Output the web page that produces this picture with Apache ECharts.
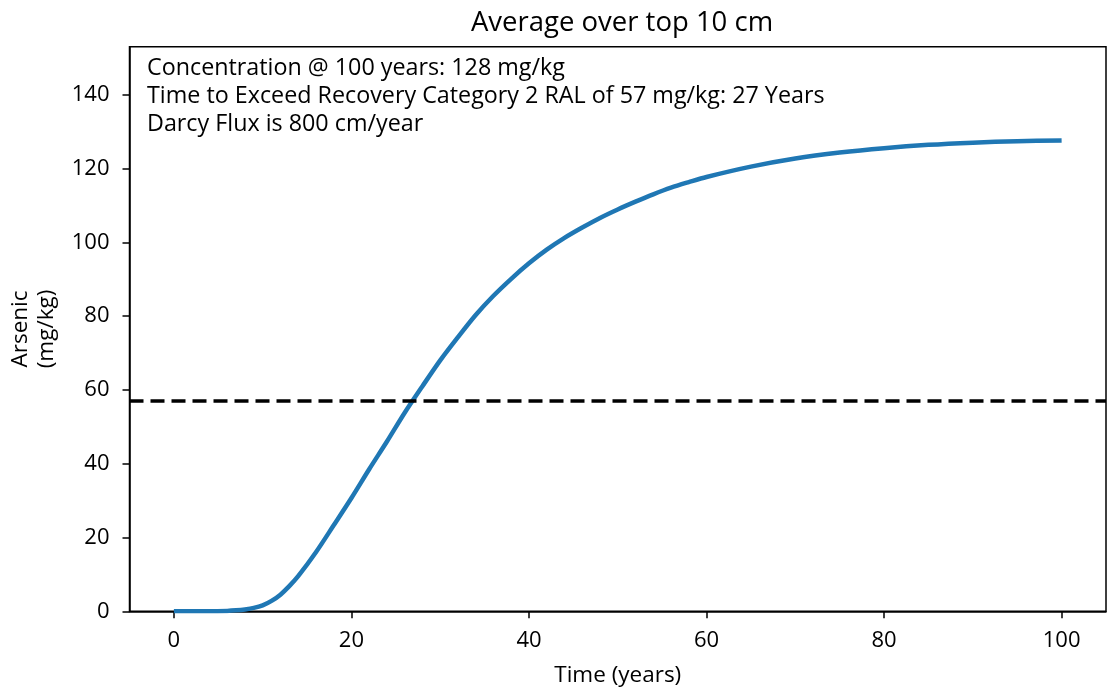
<!DOCTYPE html>
<html>
<head>
<meta charset="utf-8">
<script src="https://cdn.jsdelivr.net/npm/echarts@6/dist/echarts.min.js"></script>
<style>
  html, body { margin: 0; padding: 0; background: #fff; }
  #chart { width: 1110px; height: 689px; }
</style>
</head>
<body>
<div id="chart"></div>
<script>
// time axis (years) and averaged arsenic over top 10 cm (mg/kg)
const years = [0, 2, 4, 6, 7, 8, 9, 10, 11, 12, 13, 14, 16, 18, 20, 22, 24, 26, 28, 30, 32, 34, 36, 38,
  40, 42, 44, 46, 48, 50, 52, 54, 56, 58, 60, 65, 70, 75, 80, 85, 90, 95, 100]
const arsenic = [0, 0, 0, 0.1, 0.25, 0.5, 0.9, 1.6, 2.8, 4.5, 6.8, 9.5, 16, 23.3, 30.7, 38.5, 46, 53.8, 61, 68, 74.3, 80.3, 85.5, 90.1,
  94.3, 98, 101.2, 104, 106.6, 108.9, 111, 113, 114.8, 116.3, 117.7, 120.5, 122.7, 124.3, 125.5, 126.4, 127, 127.4, 127.6]
const xTicks = [0, 20, 40, 60, 80, 100]
const yTicks = [0, 20, 40, 60, 80, 100, 120, 140]
const ralLevel = 57
const notes = [
  'Concentration @ 100 years: 128 mg/kg',
  'Time to Exceed Recovery Category 2 RAL of 57 mg/kg: 27 Years',
  'Darcy Flux is 800 cm/year'
]

const FONT = 'Open Sans'
const chart = echarts.init(document.getElementById('chart'))

const axisCommon = {
  axisLine: { show: true, onZero: false, lineStyle: { color: '#000', width: 1.5 } },
  axisTick: { show: true, inside: false, length: 7, lineStyle: { color: '#000', width: 1.5 } },
  splitLine: { show: false }
}

chart.setOption({
  animation: false,
  title: {
    text: 'Average over top 10 cm',
    left: 617,
    textAlign: 'center',
    top: 4,
    textStyle: { fontFamily: FONT, fontSize: 27.5, fontWeight: 'normal', color: '#000' }
  },
  grid: {
    left: 129.5, right: 4, top: 46.7, bottom: 77.75,
    outerBoundsMode: 'none',
    containLabel: false,
    show: true, borderColor: '#000', borderWidth: 1.5
  },
  xAxis: {
    type: 'value',
    min: -5,
    max: 105,
    name: 'Time (years)',
    nameLocation: 'middle',
    nameGap: 53,
    nameTextStyle: { fontFamily: FONT, fontSize: 22.5, color: '#000' },
    ...axisCommon,
    axisTick: { ...axisCommon.axisTick, customValues: xTicks },
    axisLabel: { customValues: xTicks, margin: 18, fontFamily: FONT, fontSize: 22, color: '#000' }
  },
  yAxis: {
    type: 'value',
    min: 0,
    max: 153,
    name: 'Arsenic\n(mg/kg)',
    nameLocation: 'middle',
    nameRotate: 90,
    nameGap: 70,
    nameTextStyle: { fontFamily: FONT, fontSize: 22.5, color: '#000', lineHeight: 26 },
    ...axisCommon,
    axisTick: { ...axisCommon.axisTick, customValues: yTicks },
    axisLabel: { customValues: yTicks, margin: 20, fontFamily: FONT, fontSize: 22, color: '#000' }
  },
  graphic: [{
    type: 'text',
    left: 147,
    top: 54,
    style: {
      text: notes.join('\n'),
      font: '23.3px "' + FONT + '"',
      lineHeight: 28,
      fill: '#000'
    }
  }],
  series: [{
    type: 'line',
    data: years.map((t, i) => [t, arsenic[i]]),
    smooth: 0.3,
    showSymbol: false,
    lineStyle: { color: '#1f77b4', width: 4.5 },
    markLine: {
      silent: true,
      symbol: ['none', 'none'],
      label: { show: false },
      lineStyle: { color: '#000', width: 3.5, type: [14, 7] },
      data: [{ yAxis: ralLevel }]
    }
  }]
})
</script>
</body>
</html>
